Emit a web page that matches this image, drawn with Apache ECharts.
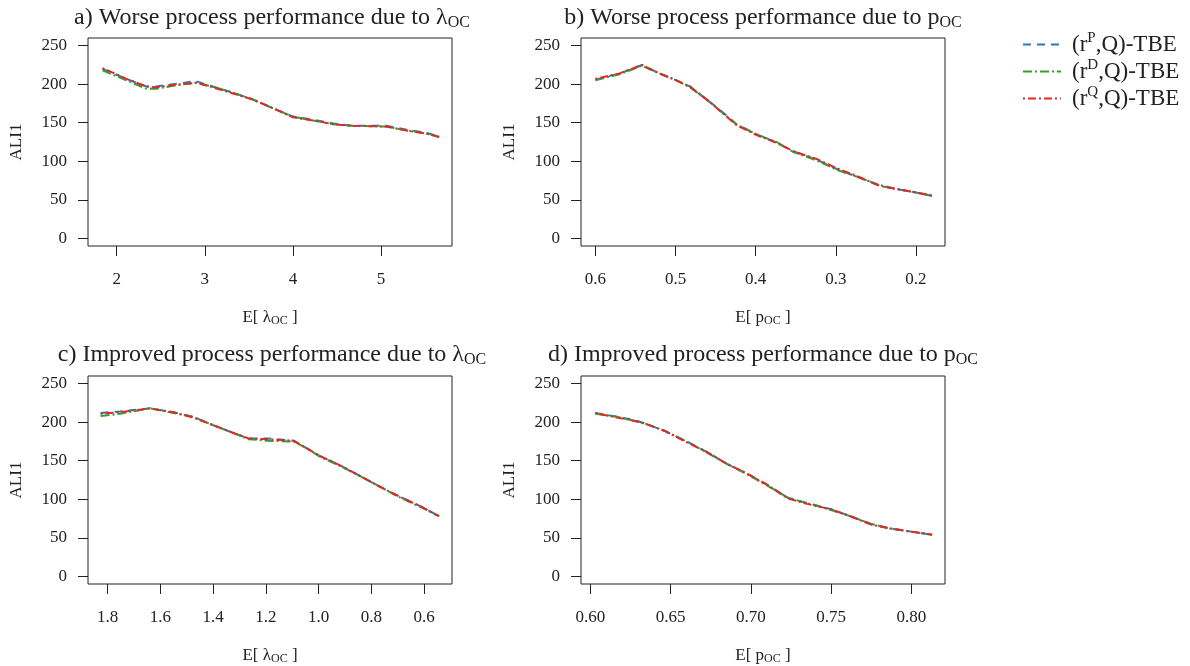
<!DOCTYPE html>
<html>
<head>
<meta charset="utf-8">
<script src="https://cdn.jsdelivr.net/npm/echarts@6/dist/echarts.min.js"></script>
<style>
  html, body { margin: 0; padding: 0; background: #fff; }
  #main { width: 1190px; height: 666px; }
</style>
</head>
<body>
<div id="main"></div>
<script>
// panel a) worse performance, E[lambda_OC]
var aX = [1.84, 2.11, 2.34, 2.45, 2.64, 2.90, 3.09, 3.32, 3.55, 3.77, 4.00, 4.23, 4.46, 4.68, 5.06, 5.29, 5.51, 5.66];
var aP = [220, 207, 197, 197, 200, 204, 197, 189, 180, 169, 158, 154, 149, 146, 146, 141, 137, 132];
var aD = [218, 205, 194, 194, 198, 202, 197, 189, 180, 169, 158, 153, 148, 146, 145, 140, 136, 131];
var aQ = [221, 207, 197, 196, 199, 202, 196, 188, 180, 169, 157, 153, 148, 146, 145, 140, 136, 132];

// panel b) worse performance, E[p_OC]
var bX = [0.600, 0.570, 0.542, 0.520, 0.499, 0.482, 0.461, 0.445, 0.424, 0.399, 0.374, 0.353, 0.324, 0.299, 0.274, 0.245, 0.224, 0.203, 0.180];
var bP = [206, 214, 225, 214, 205, 197, 180, 167, 148, 135, 124, 113, 102, 90, 80, 68, 64, 60, 55];
var bD = [205, 213, 224, 214, 205, 196, 180, 166, 148, 135, 125, 112, 101, 89, 80, 69, 64, 60, 55];
var bQ = [207, 214, 225, 214, 205, 197, 180, 166, 147, 134, 124, 113, 103, 91, 81, 68, 64, 60, 56];

// panel c) improved performance, E[lambda_OC]
var cX = [1.827, 1.753, 1.639, 1.551, 1.475, 1.399, 1.323, 1.266, 1.196, 1.095, 1.044, 0.994, 0.918, 0.842, 0.766, 0.690, 0.614, 0.543];
var cP = [212, 214, 218, 213, 207, 196, 186, 179, 179, 176, 166, 156, 144, 130, 116, 103, 91, 78];
var cD = [208, 211, 218, 212, 207, 196, 186, 178, 176, 175, 166, 155, 143, 130, 116, 102, 90, 78];
var cQ = [211, 213, 218, 213, 206, 196, 186, 179, 178, 176, 166, 156, 144, 130, 116, 103, 91, 78];

// panel d) improved performance, E[p_OC]
var dX = [0.603, 0.614, 0.627, 0.633, 0.646, 0.660, 0.673, 0.685, 0.698, 0.710, 0.723, 0.735, 0.750, 0.762, 0.775, 0.787, 0.800, 0.813];
var dP = [212, 208, 203, 199, 189, 175, 161, 146, 133, 119, 102, 95, 87, 78, 68, 62, 58, 54];
var dD = [211, 208, 202, 199, 189, 175, 160, 146, 132, 118, 102, 95, 86, 78, 68, 62, 58, 54];
var dQ = [212, 207, 202, 199, 189, 174, 161, 146, 133, 119, 101, 94, 87, 78, 67, 62, 58, 54];

// ticks
var yTicks = [0, 50, 100, 150, 200, 250];
var aTicks = [2, 3, 4, 5];
var bTicks = [0.6, 0.5, 0.4, 0.3, 0.2];
var cTicks = [1.8, 1.6, 1.4, 1.2, 1.0, 0.8, 0.6];
var dTicks = [0.60, 0.65, 0.70, 0.75, 0.80];

var seriesNames = ['(r^P,Q)-TBE', '(r^D,Q)-TBE', '(r^Q,Q)-TBE'];
var colors = ['#2a7ab9', '#33a02c', '#e3262a'];
var dashes = [[8, 6], [9, 3, 2, 3], [2, 3, 8, 3]];

var serif = '"Liberation Serif", "DejaVu Serif", serif';
var ink = '#222';

var subRich = {
    sub: { fontFamily: serif, fontSize: 12, color: ink, verticalAlign: 'bottom', padding: [7, 0, 0, 0] }
};

var myChart = echarts.init(document.getElementById('main'));

// grid boxes (left, top)
var boxes = [[88, 38], [581, 38], [88, 376], [581, 376]];
var xRanges = [[1.675, 5.805], [0.1638, 0.618], [0.4939, 1.8747], [0.5941, 0.821]];
var xInv = [false, true, true, false];
var xDec = [0, 1, 1, 2];
var xTickSets = [aTicks, bTicks, cTicks, dTicks];
var xNames = ['E[ λ{sub|OC} ]', 'E[ p{sub|OC} ]', 'E[ λ{sub|OC} ]', 'E[ p{sub|OC} ]'];

var grids = [], xAxes = [], yAxes = [];
boxes.forEach(function (b, i) {
    grids.push({
        left: b[0], top: b[1], width: 364, height: 208,
        show: true, borderColor: ink, borderWidth: 1, backgroundColor: 'transparent'
    });
    var dec = xDec[i];
    xAxes.push({
        type: 'value', gridIndex: i,
        min: xRanges[i][0], max: xRanges[i][1], inverse: xInv[i],
        axisLine: { show: false, onZero: false },
        splitLine: { show: false },
        axisTick: { show: true, length: 10, lineStyle: { color: ink }, customValues: xTickSets[i] },
        axisLabel: {
            customValues: xTickSets[i], margin: 25, color: ink,
            fontFamily: serif, fontSize: 17,
            formatter: function (v) { return v.toFixed(dec); }
        },
        name: xNames[i], nameLocation: 'middle', nameGap: 62,
        nameTextStyle: { fontFamily: serif, fontSize: 17, color: ink, rich: subRich }
    });
    yAxes.push({
        type: 'value', gridIndex: i, min: -10, max: 260,
        axisLine: { show: false, onZero: false },
        splitLine: { show: false },
        axisTick: { show: true, length: 10, lineStyle: { color: ink }, customValues: yTicks },
        axisLabel: { customValues: yTicks, margin: 21, color: ink, fontFamily: serif, fontSize: 17 },
        name: 'ALI1', nameLocation: 'middle', nameGap: 63,
        nameTextStyle: { fontFamily: serif, fontSize: 17, color: ink }
    });
});

var panelData = [[aX, aP, aD, aQ], [bX, bP, bD, bQ], [cX, cP, cD, cQ], [dX, dP, dD, dQ]];
var series = [];
panelData.forEach(function (p, i) {
    for (var k = 0; k < 3; k++) {
        var ys = p[k + 1];
        series.push({
            type: 'line', name: seriesNames[k],
            xAxisIndex: i, yAxisIndex: i,
            data: p[0].map(function (x, j) { return [x, ys[j]]; }),
            symbol: 'none', silent: true,
            lineStyle: { color: colors[k], width: 2, type: dashes[k] },
            itemStyle: { color: colors[k] }
        });
    }
});

// panel titles
var titles = [
    ['a) Worse process performance due to λ{sub|OC}', 272, 18],
    ['b) Worse process performance due to p{sub|OC}', 763, 18],
    ['c) Improved process performance due to λ{sub|OC}', 272, 355],
    ['d) Improved process performance due to p{sub|OC}', 763, 355]
];
var graphics = titles.map(function (t) {
    return {
        type: 'text', x: t[1], y: t[2],
        style: {
            text: t[0], fontFamily: serif, fontSize: 24, fill: ink,
            align: 'center', verticalAlign: 'middle',
            rich: { sub: { fontFamily: serif, fontSize: 16, fill: ink, verticalAlign: 'bottom', padding: [9, 0, 0, 0] } }
        }
    };
});

var option = {
    animation: false,
    backgroundColor: '#fff',
    grid: grids,
    xAxis: xAxes,
    yAxis: yAxes,
    legend: {
        orient: 'vertical', left: 1017, top: 26,
        itemWidth: 38, itemHeight: 14, itemGap: 0,
        itemStyle: { opacity: 0 },
        data: seriesNames,
        formatter: function (n) { return n.replace(/\^(\w)/, '{sup|$1}'); },
        textStyle: {
            fontFamily: serif, fontSize: 23, color: ink, lineHeight: 27, padding: [0, 0, 0, 6],
            rich: { sup: { fontFamily: serif, fontSize: 15, color: ink, verticalAlign: 'top', padding: [0, 0, 8, 0] } }
        }
    },
    graphic: graphics,
    series: series
};

myChart.setOption(option);
</script>
</body>
</html>
